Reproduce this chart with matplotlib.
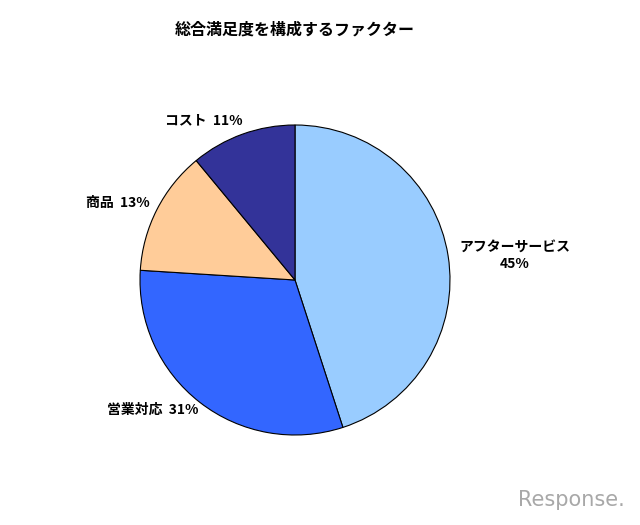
import matplotlib
matplotlib.use("Agg")
import matplotlib.pyplot as plt

plt.rcParams['font.family'] = ['Noto Sans CJK JP', 'DejaVu Sans']

# データ
categories = ["アフターサービス", "営業対応", "商品", "コスト"]
values = [45, 31, 13, 11]
colors = ["#99CCFF", "#3366FF", "#FFCC99", "#333399"]
label_texts = ["アフターサービス\n45%", "営業対応  31%", "商品  13%", "コスト  11%"]
# ラベル位置 (半径単位)
label_pos = [(1.42, 0.16), (-0.92, -0.84), (-1.14, 0.50), (-0.59, 1.03)]

fig = plt.figure(figsize=(6.4, 5.25), dpi=100)
ax = fig.add_axes([140 / 640, 90 / 525, 310 / 640, 310 / 525])

ax.pie(values, colors=colors, startangle=90, counterclock=False,
       wedgeprops=dict(edgecolor="black", linewidth=0.8))
ax.set_xlim(-1, 1)
ax.set_ylim(-1, 1)
ax.set_aspect("equal")

for txt, (x, y) in zip(label_texts, label_pos):
    ax.text(x, y, txt, ha="center", va="center", fontsize=10,
            fontweight="bold", linespacing=1.3, clip_on=False)

fig.text(295 / 640, 1 - 30 / 525, "総合満足度を構成するファクター",
         ha="center", va="center", fontsize=11.5, fontweight="bold")

# 透かし
fig.text(625 / 640, 1 - 500 / 525, "Response.", ha="right", va="center",
         fontsize=15, color="#a8a8a8", family="DejaVu Sans")

fig.savefig("out.png", dpi=100)
